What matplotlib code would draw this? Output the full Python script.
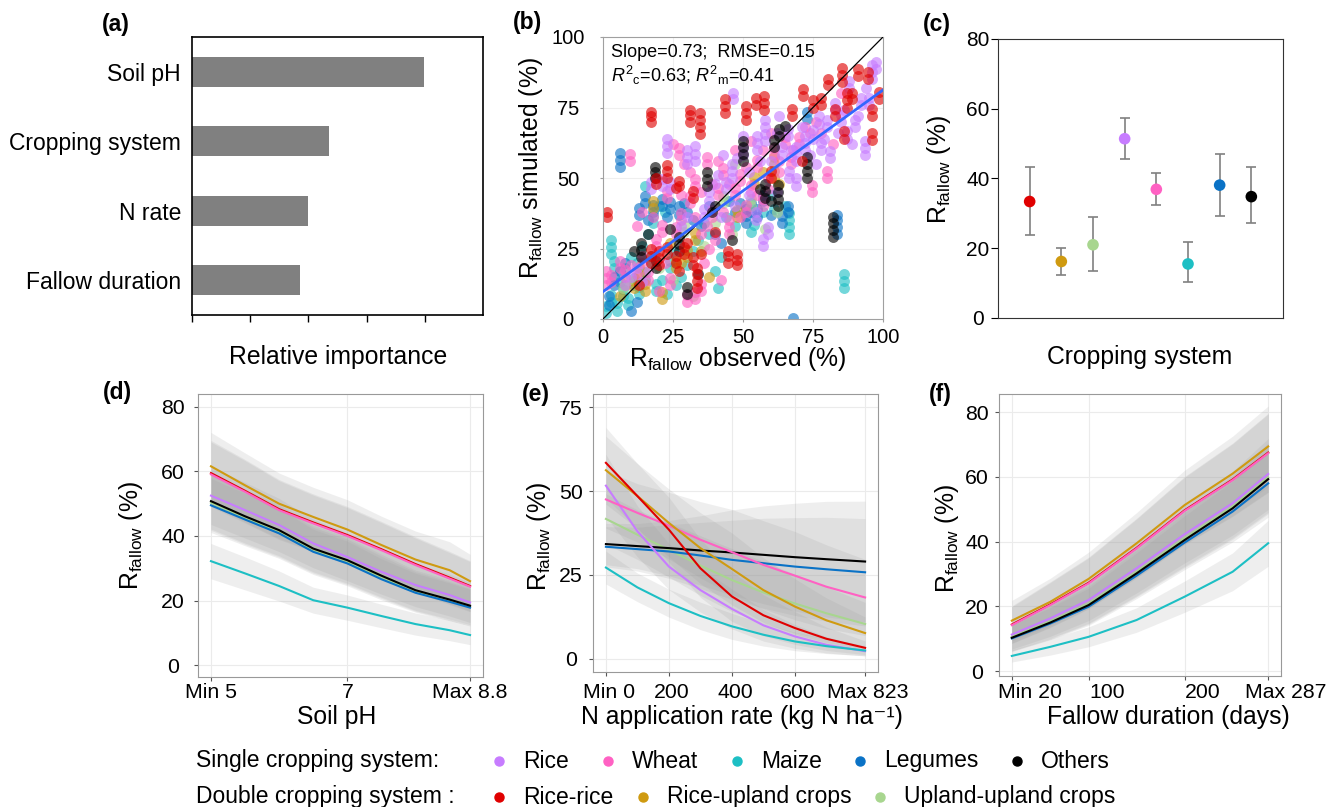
import matplotlib.pyplot as plt
import matplotlib.transforms as mtransforms
from matplotlib.lines import Line2D
import numpy as np

plt.rcParams['font.family'] = ['Liberation Sans', 'DejaVu Sans']
plt.rcParams['mathtext.fontset'] = 'custom'
plt.rcParams['mathtext.rm'] = 'Liberation Sans'
plt.rcParams['mathtext.it'] = 'Liberation Sans:italic'
plt.rcParams['mathtext.bf'] = 'Liberation Sans:bold'

W, H = 1331, 807

# ---- colours per cropping system ----
colors = {
    'Rice': '#C77CFF', 'Wheat': '#FF61C3', 'Maize': '#1DBFC4',
    'Legumes': '#0A72C6', 'Others': '#000000',
    'Rice-rice': '#E00000', 'Rice-upland crops': '#CF9A10',
    'Upland-upland crops': '#A8D68F',
}

# ---- (a) relative importance ----
imp_vars = ['Soil pH', 'Cropping system', 'N rate', 'Fallow duration']
imp_vals = [3.98, 2.36, 2.0, 1.86]

# ---- (b) observed vs simulated (obs, sim) ----
pts_maize = [(86, 11), (86, 13.5), (86, 16), (66.5, 30), (66.5, 32.5), (66.5, 35), (66.5, 37.5),
             (65, 40), (61, 39), (41, 11), (3, 23), (3, 25.5), (3, 28), (15, 47), (1, 2), (1, 4.5),
             (3, 6), (3, 8.5), (5, 3), (5, 5.5), (7, 8), (7, 10.5), (9, 5), (9, 7.5), (11, 12),
             (11, 14.5), (13, 9), (13, 11.5), (15, 14), (15, 16.5), (17, 20), (17, 22.5), (19, 10),
             (19, 12.5), (12, 20), (14, 26), (16, 30), (18, 34), (18, 36.5), (20, 40), (22, 38),
             (24, 18), (24, 20.5), (26, 12), (28, 15), (30, 19), (32, 24), (8, 18), (10, 22), (6, 13),
             (36, 34), (38, 30), (40, 17), (42, 22), (53, 31), (54, 33.5), (57, 38), (4, 18), (4, 20.5),
             (21, 14), (23, 9), (25, 24), (34, 28), (44, 36), (47, 33), (60, 44)]
pts_legumes = [(6, 54), (6, 56.5), (6, 59), (83.5, 30), (83.5, 32.5), (83.5, 35), (83.5, 37), (68, 0.5),
               (51, 34), (51, 36.5), (51, 39), (53, 38), (53, 41), (55, 36), (55, 39), (57, 42), (57, 44),
               (64, 34), (64, 36.5), (66, 38), (66, 40), (13, 37), (13, 39.5), (15, 41), (15, 43.5),
               (18, 38), (18, 40.5), (21, 40), (21, 42.5), (24, 39), (24, 41.5), (27, 37), (27, 40),
               (73, 71), (73, 73.5), (2, 5), (2, 8), (4, 12), (4, 15), (6, 17), (8, 20), (10, 3), (12, 6),
               (30, 38), (32, 35), (35, 33), (38, 40), (45, 42), (47, 38), (40, 30), (42, 27),
               (16, 35), (23, 36), (29, 41), (49, 41), (60, 37)]
pts_riceup = [(61, 50), (61, 52.5), (61, 55), (61, 57.5), (54, 48), (54, 50.5), (57, 52), (18, 42),
              (18, 39.5), (21, 7), (21, 9.5), (11, 11), (11, 13.5), (13, 16), (13, 18.5), (15, 10),
              (15, 12.5), (30, 22), (30, 24.5), (33, 28), (33, 30.5), (35, 24), (48, 36), (48, 38.5),
              (6, 8), (8, 12), (26, 18), (26, 20.5), (24, 27), (38, 15), (63, 48), (28, 20)]
pts_upup = [(53, 40), (53, 42.5), (43, 41), (43, 43.5), (29, 31), (29, 33.5), (7, 11), (9, 14),
            (47, 55), (58, 32), (36, 26), (20, 18), (32, 8), (62, 38), (46, 30), (25, 14), (40, 34)]
pts_wheat = [(9.5, 56), (9.5, 58.5), (1, 12), (1, 14.5), (1, 17), (3, 13), (3, 15.5), (6, 18), (6, 20.5),
             (8, 15), (8, 17.5), (10, 19), (12, 16), (14, 20), (14, 22.5), (16, 14), (16, 16.5), (19, 26),
             (19, 28.5), (21, 31), (21, 33.5), (24, 12), (24, 14.5), (26, 30), (26, 32.5), (28, 35),
             (28, 37.5), (30, 6), (30, 8.5), (33, 7), (33, 9.5), (35, 10), (35, 12.5), (25, 62), (27, 58),
             (27, 60.5), (29, 55), (31, 41), (31, 43.5), (33, 47), (33, 49.5), (35, 45), (37, 55),
             (37, 57.5), (39, 36), (39, 38.5), (41, 44), (41, 46.5), (43, 51), (43, 53.5), (45, 30),
             (45, 32.5), (45, 35), (47, 44), (47, 46.5), (49, 49), (49, 51.5), (51, 38), (51, 40.5),
             (53, 45), (53, 47.5), (55, 54), (55, 56.5), (57, 40), (57, 42.5), (59, 50), (61, 58),
             (61, 60.5), (63, 52), (65, 62), (65, 64.5), (67, 55), (67, 57.5), (70, 62), (70, 64.5),
             (74.5, 45), (74.5, 47.5), (80, 50), (80, 52.5), (72, 68), (74, 66), (76, 70), (36, 20),
             (38, 25), (40, 28), (42, 14), (18, 36), (12, 33), (14, 38), (23, 43), (23, 45.5), (55, 44),
             (60, 66), (85, 80), (82, 62), (35, 30), (37, 33), (39, 48), (41, 56), (43, 38), (45, 48),
             (47, 60), (49, 36), (51, 54), (53, 63), (57, 60), (59, 46), (63, 56), (68, 60), (78, 66),
             (20, 10), (22, 20), (28, 44), (31, 52), (33, 36)]
pts_rice = [(46.5, 78), (46.5, 80), (23, 59), (23, 61.5), (23, 64), (30, 55), (30, 57.5), (30, 60),
            (33, 56), (33, 58.5), (33, 61.5), (17, 46), (17, 48.5), (21, 47), (21, 49.5), (24, 46),
            (24, 48.5), (36, 36), (36, 39), (38, 42), (38, 45), (40, 48), (41, 51), (44, 46), (44, 48.5),
            (46, 50), (46, 52.5), (46, 55), (50, 58), (50, 60.5), (55, 60), (55, 62.5), (55, 65),
            (58, 63), (58, 65.5), (58, 68), (58, 70.5), (60, 56), (62, 66), (64, 58), (64, 61), (66, 65),
            (66, 67.5), (69, 56), (69, 58.5), (69, 61), (72, 60), (72, 62.5), (72, 65), (75, 64),
            (75, 67), (77, 69), (77, 72), (78, 60), (78, 62.5), (80, 68), (80, 70.5), (81, 57),
            (81, 59.5), (83, 74), (83, 76.5), (85, 70), (85, 72.5), (87, 64), (87, 66.5), (88, 82),
            (88, 84.5), (90, 68), (90, 70.5), (92, 76), (92, 78.5), (93.5, 58), (93.5, 60.5), (93.5, 63),
            (96, 85), (96, 87.5), (96, 90), (97.5, 88.5), (97.5, 91), (95, 76), (95, 78.5), (57, 26),
            (57, 28.5), (59, 30), (59, 32.5), (54.5, 35), (54.5, 38), (66.5, 50), (66.5, 52.5), (8, 12),
            (10, 15), (12, 18), (14, 13), (28, 33), (30, 36), (42, 36), (47, 40), (69, 47), (69, 50),
            (62, 45), (52, 52), (50, 65), (48, 57), (74, 58), (76, 55), (79, 64), (84, 66), (86, 74),
            (89, 62), (91, 72), (94, 82), (63, 72), (67, 60), (71, 68), (56, 56), (52, 44), (43, 58)]
pts_others = [(82, 29), (82, 31.5), (82, 34), (82, 36), (62.5, 40), (62.5, 42.5), (62.5, 45), (62.5, 47.5),
              (58, 43), (58, 45.5), (58, 48), (50, 56), (50, 58.5), (50, 61), (50, 63), (61, 61),
              (61, 63.5), (63, 65), (63, 67.5), (65, 68.5), (73, 50), (73, 52.5), (73, 55), (73, 57.5),
              (18.5, 50), (18.5, 52), (18.5, 54), (37, 47), (37, 49.5), (37, 52), (39, 38), (13.5, 22),
              (13.5, 24.5), (13.5, 27), (19, 18), (19, 20.5), (27, 24), (27, 26.5), (27, 29), (30, 9),
              (30, 11.5), (11, 24), (16, 30), (24, 32), (34, 16), (46, 28), (56, 46), (60, 42), (40, 40)]
pts_ricerice = [(1.5, 36), (1.5, 38), (17, 70), (17, 72), (17, 73.5), (31, 70), (31, 72.5), (31, 74),
                (34.5, 65.5), (34.5, 68), (34.5, 70.5), (34.5, 73), (43.5, 73), (43.5, 75.5), (43.5, 78),
                (51, 70.5), (51, 73), (51, 75.5), (54.5, 76), (54.5, 78.5), (57.5, 74), (57.5, 76.5),
                (57.5, 79), (67.5, 72), (67.5, 74.5), (71.5, 79), (71.5, 81.5), (75, 75), (75, 77.5),
                (78, 76), (78, 78.5), (80.5, 83), (80.5, 85), (85.5, 84), (85.5, 86.5), (85.5, 89),
                (87, 75), (87, 77.5), (87, 80), (86, 64), (86, 66.5), (91, 86), (91, 88.5), (94.5, 85),
                (94.5, 87.5), (96, 63.5), (96, 66), (96, 72), (96, 74.5), (98.5, 78), (98.5, 80.5),
                (89, 78), (89, 80), (83, 72), (83, 74.5), (23, 50), (23, 52.5), (23, 54.5), (27, 47),
                (27, 49), (32, 43), (32, 45.5), (19, 48), (19, 50), (26, 46.5), (44.5, 20), (44.5, 22.5),
                (44.5, 24), (48, 19), (48, 21), (48, 23), (33.5, 11), (33.5, 13.5), (33.5, 16), (33.5, 18),
                (17, 20), (17, 22.5), (17, 25), (20, 19), (20, 21.5), (20, 24), (23, 23), (23, 25.5),
                (26, 20), (26, 22.5), (29, 23), (29, 25.5), (32, 19), (32, 22), (35, 23), (13, 12),
                (27, 17), (30, 27), (40, 31), (60, 50), (60, 52.5), (71, 56)]
fit_intercept, fit_slope = 9.7, 0.715

# ---- (c) mean and 95% CI per cropping system ----
c_systems = ['Rice-rice', 'Rice-upland crops', 'Upland-upland crops', 'Rice', 'Wheat', 'Maize',
             'Legumes', 'Others']
c_mean = [33.4, 16.2, 21.0, 51.4, 36.9, 15.5, 38.1, 34.8]
c_low = [23.7, 12.4, 13.4, 45.5, 32.4, 10.4, 29.2, 27.2]
c_high = [43.4, 20.2, 28.9, 57.3, 41.7, 21.8, 47.1, 43.4]

# ---- (d) soil pH effect ----
ph_x = [5, 5.5, 6, 6.5, 7, 7.5, 8, 8.5, 8.8]
ph_curves = {
    'Rice-rice': [59.5, 54.0, 48.3, 44.2, 40.3, 35.9, 31.3, 27.1, 24.5],
    'Upland-upland crops': [50.3, 45.6, 41.3, 35.6, 32.0, 27.2, 22.8, 19.9, 18.0],
    'Legumes': [49.5, 45.1, 40.8, 35.1, 31.5, 26.6, 22.4, 19.6, 17.8],
    'Others': [50.8, 46.1, 41.8, 36.1, 32.5, 27.7, 23.2, 20.3, 18.4],
    'Rice': [52.5, 48.0, 43.4, 37.7, 33.5, 28.9, 24.8, 21.7, 19.4],
    'Wheat': [59.1, 53.7, 48.0, 43.9, 40.0, 35.6, 31.0, 26.8, 24.3],
    'Rice-upland crops': [61.6, 55.7, 50.0, 45.9, 42.0, 37.2, 32.7, 29.4, 26.0],
    'Maize': [32.2, 28.4, 24.5, 20.1, 17.8, 15.2, 12.7, 10.8, 9.3],
}
ph_ci = [0.17, 0.18, 0.19, 0.2, 0.22, 0.24, 0.27, 0.3, 0.32]

# ---- (e) N rate effect ----
n_x = [0, 100, 200, 300, 400, 500, 600, 700, 823]
n_curves = {
    'Upland-upland crops': [41.7, 37.0, 32.5, 27.8, 23.5, 19.8, 16.5, 13.6, 10.4],
    'Legumes': [33.4, 32.7, 32.0, 30.8, 29.5, 28.5, 27.5, 26.7, 25.8],
    'Others': [34.2, 33.6, 33.0, 32.3, 31.7, 31.0, 30.3, 29.7, 29.0],
    'Rice': [51.6, 38.0, 27.5, 20.5, 14.9, 10.0, 6.7, 4.2, 2.3],
    'Wheat': [47.5, 43.5, 39.7, 35.5, 31.8, 28.0, 24.8, 21.5, 18.3],
    'Rice-upland crops': [56.2, 48.5, 40.5, 33.0, 26.8, 20.5, 15.6, 11.5, 7.7],
    'Maize': [27.2, 21.3, 16.6, 12.8, 9.7, 7.2, 5.2, 3.8, 2.5],
    'Rice-rice': [58.4, 48.5, 38.5, 27.0, 18.6, 13.0, 9.2, 6.0, 3.3],
}
n_ci = [0.18, 0.2, 0.25, 0.32, 0.4, 0.47, 0.53, 0.58, 0.62]

# ---- (f) fallow duration effect ----
fd_x = [20, 60, 100, 150, 200, 250, 287]
fd_curves = {
    'Rice-rice': [14.4, 20.6, 27.3, 38.1, 49.7, 59.2, 67.5],
    'Upland-upland crops': [10.6, 15.3, 20.8, 30.6, 41.0, 50.8, 59.8],
    'Legumes': [10.1, 14.7, 19.9, 29.5, 39.7, 49.3, 58.0],
    'Others': [10.3, 15.0, 20.4, 30.2, 40.5, 50.3, 59.3],
    'Rice': [11.3, 16.3, 22.0, 31.8, 42.3, 51.9, 60.9],
    'Wheat': [14.2, 20.4, 27.1, 37.9, 49.5, 59.0, 67.3],
    'Rice-upland crops': [15.6, 21.4, 28.5, 39.5, 51.3, 61.0, 69.4],
    'Maize': [4.7, 7.5, 10.6, 15.8, 23.0, 30.7, 39.5],
}
fd_ci = [0.4, 0.34, 0.29, 0.24, 0.21, 0.19, 0.18]

single_sys = ['Rice', 'Wheat', 'Maize', 'Legumes', 'Others']
double_sys = ['Rice-rice', 'Rice-upland crops', 'Upland-upland crops']


def rect(l, t, r, b):
    return [l / W, 1 - b / H, (r - l) / W, (b - t) / H]


def ftext(x, y, s, **kw):
    fig.text(x / W, 1 - y / H, s, **kw)


RF = r'R$_{\mathregular{fallow}}$'
fig = plt.figure(figsize=(W / 100, H / 100), dpi=100)

# ---------- (a) ----------
ax = fig.add_axes(rect(192, 37, 483, 315))
ax.barh(range(len(imp_vars)), imp_vals, height=0.43, color='#808080')
ax.set_ylim(3.5, -0.5)
ax.set_xlim(0, 5)
ax.set_yticks(range(len(imp_vars)))
ax.set_yticklabels(imp_vars, fontsize=16.5)
ax.tick_params(axis='y', length=0, pad=8)
ax.set_xticks([0, 1, 2, 3, 4])
ax.set_xticklabels([])
ax.tick_params(axis='x', direction='out', length=5, width=1)
for s in ax.spines.values():
    s.set_linewidth(1.2)

# ---------- (b) ----------
ax = fig.add_axes(rect(603, 37, 883, 319))
for v in [25, 50, 75]:
    ax.axhline(v, color='#EFEFEF', lw=0.8, zorder=0)
    ax.axvline(v, color='#EFEFEF', lw=0.8, zorder=0)
groups = [(pts_maize, 'Maize'), (pts_legumes, 'Legumes'), (pts_riceup, 'Rice-upland crops'),
          (pts_upup, 'Upland-upland crops'), (pts_wheat, 'Wheat'), (pts_rice, 'Rice'),
          (pts_others, 'Others'), (pts_ricerice, 'Rice-rice')]
for pts, name in groups:
    arr = np.array(pts)
    ax.scatter(arr[:, 0], arr[:, 1], s=62, color=colors[name], alpha=0.62, lw=0, zorder=2)
ax.plot([0, 100], [0, 100], color='black', lw=0.9, zorder=3)
xx = np.array([0, 100])
ax.plot(xx, fit_intercept + fit_slope * xx, color='#3366FF', lw=2, zorder=4)
ax.set_xlim(0, 100)
ax.set_ylim(0, 100)
ax.set_xticks([0, 25, 50, 75, 100])
ax.set_yticks([0, 25, 50, 75, 100])
ax.tick_params(labelsize=14.5, length=2.5, color='#A0A0A0')
ax.tick_params(axis='y', pad=22.5)
for lab in ax.get_yticklabels():
    lab.set_ha('center')
ax.tick_params(axis='x', pad=4)
for s in ax.spines.values():
    s.set_color('#A0A0A0')
ax.text(0.03, 0.945, 'Slope=0.73;  RMSE=0.15', transform=ax.transAxes, fontsize=13, va='center')
ax.text(0.03, 0.865, r'$R^{2}{}_{\mathregular{c}}$=0.63; $R^{2}{}_{\mathregular{m}}$=0.41',
        transform=ax.transAxes, fontsize=13, va='center')

# ---------- (c) ----------
ax = fig.add_axes(rect(998, 39, 1283, 318))
cx = np.arange(1, len(c_systems) + 1)
cm = np.array(c_mean)
ax.errorbar(cx, cm, yerr=[cm - np.array(c_low), np.array(c_high) - cm], fmt='none',
            ecolor='#808080', elinewidth=1.2, capsize=3.5, capthick=1.2, zorder=1)
ax.scatter(cx, cm, s=70, c=[colors[n] for n in c_systems], zorder=2, lw=0)
ax.set_xlim(0, 9)
ax.set_ylim(0, 80)
ax.set_xticks([])
ax.set_yticks([0, 20, 40, 60, 80])
ax.tick_params(axis='y', labelsize=15, length=5, pad=9.5)
for lab in ax.get_yticklabels():
    lab.set_ha('center')
for s in ax.spines.values():
    s.set_color('#333333')


# ---------- (d)-(f) ----------
def effect_panel(r, xs, curves, ci, xlim, ylim, yticks, xticks, xlabels, ypad, xpad, shift):
    ax = fig.add_axes(r)
    ax.grid(True, color='#EBEBEB', lw=0.8)
    ax.set_axisbelow(True)
    xs = np.array(xs)
    ci = np.array(ci)
    for name, ys in curves.items():
        ys = np.array(ys)
        ax.fill_between(xs, ys * (1 - ci), ys * (1 + ci), color='#9A9A9A', alpha=0.16, lw=0)
    for name, ys in curves.items():
        ax.plot(xs, ys, color=colors[name], lw=1.5)
    ax.set_xlim(*xlim)
    ax.set_ylim(*ylim)
    ax.set_yticks(yticks)
    ax.set_xticks(xticks)
    ax.set_xticklabels(xlabels)
    ax.tick_params(labelsize=15.3, length=3, color='#555555')
    ax.tick_params(axis='y', pad=ypad)
    ax.tick_params(axis='x', pad=xpad)
    for lab in ax.get_yticklabels():
        lab.set_ha('center')
    if shift:
        off = mtransforms.ScaledTranslation(shift / 100, 0, fig.dpi_scale_trans)
        for lab in ax.get_xticklabels():
            lab.set_transform(lab.get_transform() + off)
    for s in ax.spines.values():
        s.set_color('#999999')
    return ax


effect_panel(rect(198, 394, 483, 677), ph_x, ph_curves, ph_ci, (4.81, 8.99), (-3.7, 84),
             [0, 20, 40, 60, 80], [5, 7, 8.8], ['Min 5', '7', 'Max 8.8'], 15, 1.5, 0)
effect_panel(rect(593, 394, 878, 672), n_x, n_curves, n_ci, (-41, 864), (-3.9, 78.9),
             [0, 25, 50, 75], [0, 200, 400, 600, 823],
             ['Min 0', '200', '400', '600', 'Max 823'], 12.8, 5, 3)
effect_panel(rect(999, 394, 1281, 676), fd_x, fd_curves, fd_ci, (6.65, 300.35), (-1.5, 85.6),
             [0, 20, 40, 60, 80], [20, 100, 200, 287],
             ['Min 20', '100', '200', 'Max 287'], 12.8, 2, 18)

# ---------- labels ----------
for lab, x, y in [('(a)', 116, 24), ('(b)', 527, 23), ('(c)', 937, 25),
                  ('(d)', 117, 393), ('(e)', 536, 395), ('(f)', 940, 395)]:
    ftext(x, y, lab, fontsize=16.5, fontweight='bold', ha='center', va='center')

xl = dict(fontsize=17.8, ha='center', va='center')
ftext(338, 357, 'Relative importance', **xl)
ftext(738, 359, RF + ' observed (%)', **xl)
ftext(1140, 357, 'Cropping system', **xl)
ftext(337, 717, 'Soil pH', **xl)
ftext(742, 717, 'N application rate (kg N ha\u207b\u00b9)', **xl)
ftext(1168, 717, 'Fallow duration (days)', **xl)

yl = dict(fontsize=17.8, ha='center', va='center', rotation=90)
ftext(531, 168, RF + ' simulated (%)', **yl)
ftext(939, 170, RF + ' (%)', **yl)
ftext(131, 536, RF + ' (%)', **yl)
ftext(539, 537, RF + ' (%)', **yl)
ftext(947, 539, RF + ' (%)', **yl)

# ---------- legend ----------
ftext(196, 761, 'Single cropping system:', fontsize=16.5, va='center')
ftext(196, 797, 'Double cropping system :', fontsize=16.5, va='center')
for names, xs_dot, y in [(single_sys, [499, 608, 737, 860, 1017], 761),
                         (double_sys, [499, 643, 880], 797)]:
    for name, xd in zip(names, xs_dot):
        fig.add_artist(Line2D([xd / W], [1 - y / H], marker='o', ms=6.5, ls='',
                              color=colors[name], transform=fig.transFigure))
        ftext(xd + 24, y, name, fontsize=16.5, va='center')

fig.savefig('out.png', dpi=100)
